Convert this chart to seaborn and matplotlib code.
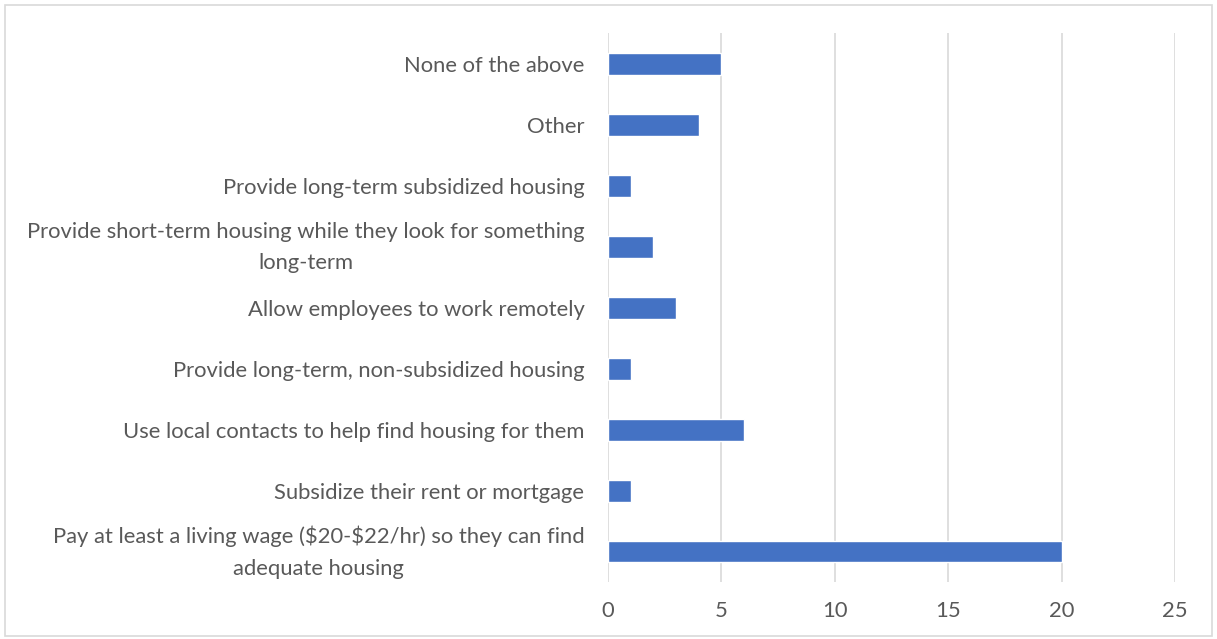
import matplotlib
matplotlib.use("Agg")
import matplotlib.pyplot as plt
import matplotlib.transforms as mtransforms
import seaborn as sns
import pandas as pd
from matplotlib.patches import Rectangle

# Responses, listed top to bottom as shown on the chart
options = [
    "None of the above",
    "Other",
    "Provide long-term subsidized housing",
    "Provide short-term housing while they look for something\nlong-term",
    "Allow employees to work remotely",
    "Provide long-term, non-subsidized housing",
    "Use local contacts to help find housing for them",
    "Subsidize their rent or mortgage",
    "Pay at least a living wage (\\$20-\\$22/hr) so they can find\nadequate housing",
]
counts = [5, 4, 1, 2, 3, 1, 6, 1, 20]
x_ticks = [0, 5, 10, 15, 20, 25]

df = pd.DataFrame({"option": options, "count": counts})

sns.set_theme(style="white")
plt.rcParams["font.family"] = ["Lato", "DejaVu Sans"]

fig = plt.figure(figsize=(12.17, 6.39), dpi=100)
ax = fig.add_axes([0.4996, 0.0892, 0.4659, 0.8584])

sns.barplot(data=df, x="count", y="option", order=options, color="#4472C4",
            width=0.36, saturation=1, ax=ax, orient="h")

ax.set_xlim(0, 25)
ax.set_xticks(x_ticks)
ax.set_xticklabels([str(t) for t in x_ticks])
ax.set_xlabel("")
ax.set_ylabel("")
ax.grid(axis="x", color="#D9D9D9", linewidth=1.2)
ax.set_axisbelow(True)
for s in ax.spines.values():
    s.set_visible(False)
ax.tick_params(axis="both", length=0, labelsize=15.8, labelcolor="#595959")
ax.tick_params(axis="y", pad=17)
ax.tick_params(axis="x", pad=14)

# Two-line labels: centre each line and nudge the block up a little
lift = mtransforms.ScaledTranslation(0, 5 / 72, fig.dpi_scale_trans)
for lbl in ax.get_yticklabels():
    lbl.set_multialignment("center")
    lbl.set_linespacing(1.7)
    if "\n" in lbl.get_text():
        lbl.set_transform(lbl.get_transform() + lift)

# Light frame around the whole chart area
fig.patches.append(Rectangle((0.004, 0.004), 0.992, 0.988, transform=fig.transFigure,
                             fill=False, edgecolor="#D9D9D9", linewidth=1.2))

fig.savefig("out.png", dpi=100)
